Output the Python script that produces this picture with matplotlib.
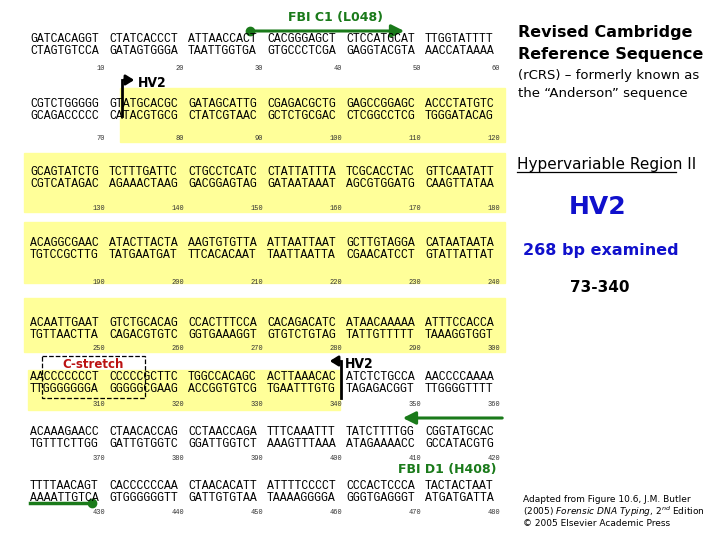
import matplotlib
matplotlib.use("Agg")
import matplotlib.pyplot as plt
from matplotlib.patches import Rectangle, FancyArrowPatch

rows_top = [
    "GATCACAGGT CTATCACCCT ATTAACCACT CACGGGAGCT CTCCATGCAT TTGGTATTTT",
    "CGTCTGGGGG GTATGCACGC GATAGCATTG CGAGACGCTG GAGCCGGAGC ACCCTATGTC",
    "GCAGTATCTG TCTTTGATTC CTGCCTCATC CTATTATTTA TCGCACCTAC GTTCAATATT",
    "ACAGGCGAAC ATACTTACTA AAGTGTGTTA ATTAATTAAT GCTTGTAGGA CATAATAATA",
    "ACAATTGAAT GTCTGCACAG CCACTTTCCA CACAGACATC ATAACAAAAA ATTTCCACCA",
    "AACCCCCCCT CCCCCGCTTC TGGCCACAGC ACTTAAACAC ATCTCTGCCA AACCCCAAAA",
    "ACAAAGAACC CTAACACCAG CCTAACCAGA TTTCAAATTT TATCTTTTGG CGGTATGCAC",
    "TTTTAACAGT CACCCCCCAA CTAACACATT ATTTTCCCCT CCCACTCCCA TACTACTAAT",
]
rows_bot = [
    "CTAGTGTCCA GATAGTGGGA TAATTGGTGA GTGCCCTCGA GAGGTACGTA AACCATAAAA",
    "GCAGACCCCC CATACGTGCG CTATCGTAAC GCTCTGCGAC CTCGGCCTCG TGGGATACAG",
    "CGTCATAGAC AGAAACTAAG GACGGAGTAG GATAATAAAT AGCGTGGATG CAAGTTATAA",
    "TGTCCGCTTG TATGAATGAT TTCACACAAT TAATTAATTA CGAACATCCT GTATTATTAT",
    "TGTTAACTTA CAGACGTGTC GGTGAAAGGT GTGTCTGTAG TATTGTTTTT TAAAGGTGGT",
    "TTGGGGGGGA GGGGGCGAAG ACCGGTGTCG TGAATTTGTG TAGAGACGGT TTGGGGTTTT",
    "TGTTTCTTGG GATTGTGGTC GGATTGGTCT AAAGTTTAAA ATAGAAAACC GCCATACGTG",
    "AAAATTGTCA GTGGGGGGTT GATTGTGTAA TAAAAGGGGA GGGTGAGGGT ATGATGATTA",
]
row_y = [39, 104, 172, 243, 323, 377, 432, 486]
num_y = [68, 138, 209, 282, 349, 404, 458, 512]
col_x = [30, 109, 188, 267, 346, 425]

fig = plt.figure(figsize=(7.2, 5.4), dpi=100)
ax = fig.add_axes([0, 0, 1, 1])
ax.set_xlim(0, 720); ax.set_ylim(540, 0); ax.axis("off")

Y = "#ffff99"
for (x0, y0, x1, y1) in [(120, 88, 505, 142), (24, 153, 505, 212), (24, 222, 505, 283),
                         (24, 298, 505, 352), (28, 370, 340, 410)]:
    ax.add_patch(Rectangle((x0, y0), x1 - x0, y1 - y0, color=Y, zorder=0))

mono = "Liberation Mono"
for r in range(8):
    for i, (a, b) in enumerate(zip(rows_top[r].split(), rows_bot[r].split())):
        ax.text(col_x[i], row_y[r], a, family=mono, fontsize=8.3, va="center")
        ax.text(col_x[i], row_y[r] + 12, b, family=mono, fontsize=8.3, va="center")
        ax.text(col_x[i] + 75, num_y[r], str(r * 60 + (i + 1) * 10), family=mono,
                fontsize=5, ha="right", va="center", color="#333333")

G = "#1a7a1a"
ax.text(335, 18, "FBI C1 (L048)", color=G, fontsize=9, weight="bold", ha="center", va="center")
ax.add_patch(FancyArrowPatch((250, 31), (407, 31), arrowstyle="-|>,head_length=5,head_width=2.5",
                             color=G, lw=2.2, mutation_scale=1.5))
ax.plot(250, 31, "o", color=G, ms=6)
ax.add_patch(FancyArrowPatch((505, 418), (400, 418), arrowstyle="-|>,head_length=5,head_width=2.5",
                             color=G, lw=2.2, mutation_scale=1.5))
ax.text(497, 469, "FBI D1 (H408)", color=G, fontsize=9, weight="bold", ha="right", va="center")
ax.plot([30, 92], [503, 503], color=G, lw=2.5)
ax.plot(92, 503, "o", color=G, ms=6)

# HV2 markers
ax.plot([122, 122], [116, 80], color="black", lw=2)
ax.add_patch(FancyArrowPatch((121, 80), (137, 80), arrowstyle="-|>,head_length=4,head_width=2.5",
                             color="black", lw=2, mutation_scale=1.2))
ax.text(138, 83, "HV2", fontsize=10, weight="bold", stretch="condensed", va="center")
ax.plot([341, 341], [398, 361], color="black", lw=2)
ax.add_patch(FancyArrowPatch((342, 361), (327, 361), arrowstyle="-|>,head_length=4,head_width=2.5",
                             color="black", lw=2, mutation_scale=1.2))
ax.text(345, 364, "HV2", fontsize=10, weight="bold", stretch="condensed", va="center")

ax.add_patch(Rectangle((42, 356), 103, 42, fill=False, ls="--", lw=0.9, ec="black"))
ax.text(93, 365, "C-stretch", color="#bb1111", fontsize=8.5, weight="bold", ha="center", va="center")

ax.text(518, 33, "Revised Cambridge", fontsize=11.5, weight="bold", va="center")
ax.text(518, 55, "Reference Sequence", fontsize=11.5, weight="bold", va="center")
ax.text(518, 76, "(rCRS) – formerly known as", fontsize=9.5, va="center")
ax.text(518, 93, "the \u201cAnderson\u201d sequence", fontsize=9.5, va="center")
ax.text(517, 164, "Hypervariable Region II", fontsize=11, va="center")
ax.plot([517, 676], [172, 172], color="black", lw=0.9)
B = "#1010cc"
ax.text(598, 207, "HV2", fontsize=18, weight="bold", color=B, ha="center", va="center")
ax.text(601, 250, "268 bp examined", fontsize=11.5, weight="bold", color=B, ha="center", va="center")
ax.text(600, 287, "73-340", fontsize=11, weight="bold", ha="center", va="center")
ax.text(523, 500, "Adapted from Figure 10.6, J.M. Butler", fontsize=6.5, va="center")
ax.text(523, 512, "(2005) $\\it{Forensic\\ DNA\\ Typing}$, 2$^{nd}$ Edition", fontsize=6.5, va="center")
ax.text(523, 524, "© 2005 Elsevier Academic Press", fontsize=6.5, va="center")

fig.savefig("out.png", dpi=100)
